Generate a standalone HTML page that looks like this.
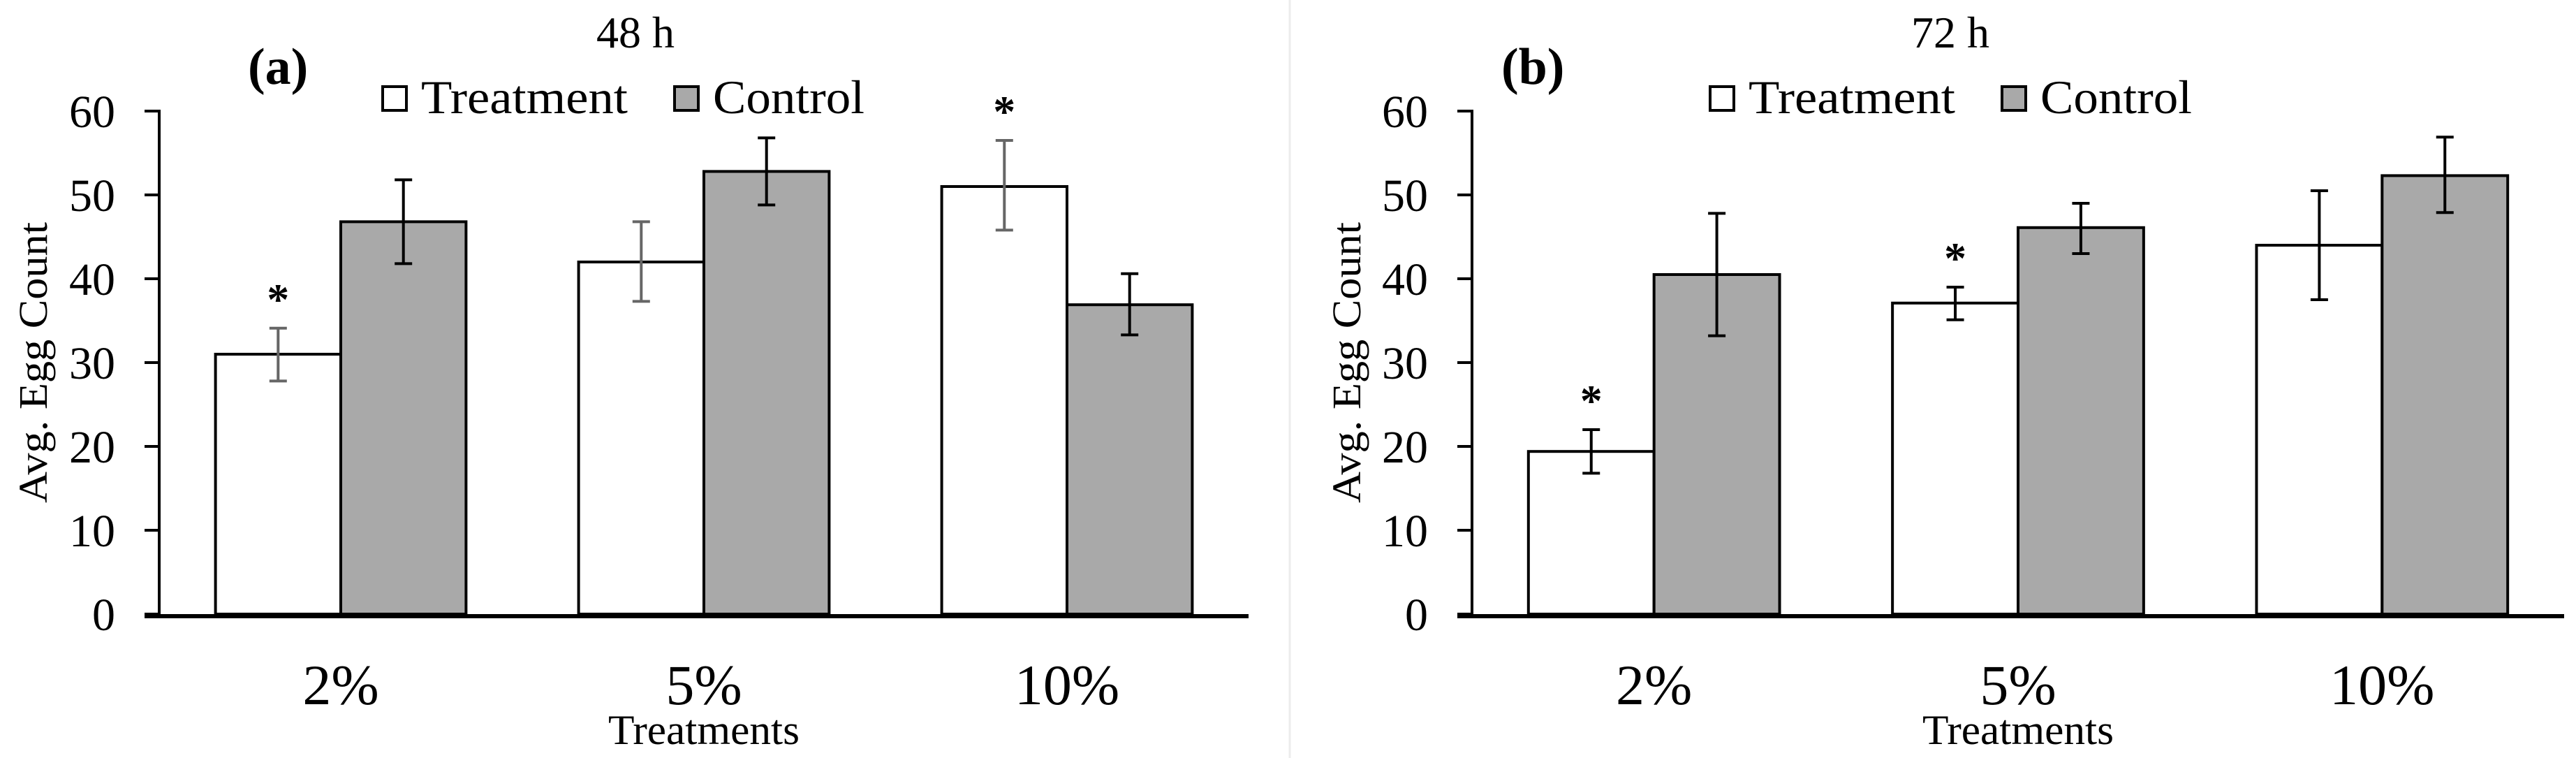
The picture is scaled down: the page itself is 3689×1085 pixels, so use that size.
<!DOCTYPE html>
<html><head><meta charset="utf-8"><style>
html,body{margin:0;padding:0;background:#fff;}
svg{display:block;}
text{font-family:"Liberation Serif",serif;fill:#000;}
</style></head><body>
<svg id="fig" width="3689" height="1085" viewBox="0 0 3689 1085" xmlns="http://www.w3.org/2000/svg">
<rect x="0" y="0" width="3689" height="1085" fill="#fff"/>
<line x1="1847" y1="0" x2="1847" y2="1085" stroke="#ececec" stroke-width="3"/>
</svg>
<script>
const categories = ["2%", "5%", "10%"];
const yTicks = [0, 10, 20, 30, 40, 50, 60];
const a_treatment = [31, 42, 51];
const a_treatmentLo = [27.8, 37.3, 45.8];
const a_treatmentHi = [34.1, 46.8, 56.5];
const a_control = [46.8, 52.8, 36.9];
const a_controlLo = [41.8, 48.8, 33.3];
const a_controlHi = [51.8, 56.8, 40.6];
const a_sigTreatment = [true, false, true];
const b_treatment = [19.4, 37.1, 44];
const b_treatmentLo = [16.8, 35.1, 37.5];
const b_treatmentHi = [22, 39, 50.5];
const b_control = [40.5, 46.1, 52.3];
const b_controlLo = [33.2, 43, 47.9];
const b_controlHi = [47.8, 49, 56.9];
const b_sigTreatment = [true, true, false];

const NS = "http://www.w3.org/2000/svg";
const svg = document.getElementById("fig");
function mk(tag, attrs, parent) {
  const e = document.createElementNS(NS, tag);
  for (const k in attrs) e.setAttribute(k, attrs[k]);
  (parent || svg).appendChild(e);
  return e;
}
function txt(str, attrs, parent) { const t = mk("text", attrs, parent); t.textContent = str; return t; }

function panel(p) {
  const g = mk("g", {});
  
  
  const y0 = 879, pxPerUnit = 12;
  const yScale = v => y0 - v * pxPerUnit;
  const catW = (p.xEnd - p.ax) / categories.length;
  const barW = catW * 0.345;
  const xCenter = i => p.ax + catW * (i + 0.5);

  // title
  const t1 = txt(p.title, {x: p.titleX, y: 68, "font-size": 64, "text-anchor": "middle"}, g);
  
  
  const t2 = txt(p.tag, {x: p.tagX, y: 120, "font-size": 74, "font-weight": "bold"}, g);
  
  

  // legend
  const lg = mk("g", {}, g);
  
  
  const l1 = mk("rect", {x: p.legX, y: 124, width: 34, height: 34, fill: "#fff", stroke: "#000", "stroke-width": 4}, lg);
  
  
  const l2 = txt("Treatment", {x: p.legX + 55, y: 162, "font-size": 68, textLength: 296, lengthAdjust: "spacingAndGlyphs"}, lg);
  
  
  const l3 = mk("rect", {x: p.legX + 418, y: 124, width: 34, height: 34, fill: "#a9a9a9", stroke: "#000", "stroke-width": 4}, lg);
  
  
  const l4 = txt("Control", {x: p.legX + 473, y: 162, "font-size": 68, textLength: 217, lengthAdjust: "spacingAndGlyphs"}, lg);
  
  

  // y ticks
  yTicks.forEach(v => {
    const tk = mk("line", {x1: p.ax - 21, x2: p.ax, y1: yScale(v), y2: yScale(v), stroke: "#000", "stroke-width": 4}, g);
    
    
    const tl = txt(String(v), {x: p.ax - 63, y: yScale(v) + 23, "font-size": 66, "text-anchor": "end"}, g);
    
    
  });

  // y title
  const yt = txt("Avg. Egg Count", {x: 0, y: 0, "font-size": 58, "text-anchor": "middle", textLength: 402, lengthAdjust: "spacingAndGlyphs", transform: `translate(${p.yTitleX},519) rotate(-90)`}, g);
  
  

  // bars
  categories.forEach((c, i) => {
    const xc = xCenter(i);
    const tb = mk("rect", {x: xc - barW, y: yScale(p.treat[i]), width: barW, height: y0 - yScale(p.treat[i]), fill: "#fff", stroke: "#000", "stroke-width": 4}, g);
    
    
    const cb = mk("rect", {x: xc, y: yScale(p.ctrl[i]), width: barW, height: y0 - yScale(p.ctrl[i]), fill: "#a9a9a9", stroke: "#000", "stroke-width": 4}, g);
    
    

    const errs = [[xc - barW / 2, p.tLo[i], p.tHi[i], p.tErrColor, 'error-bar-treatment'], [xc + barW / 2, p.cLo[i], p.cHi[i], "#000", 'error-bar-control']];
    errs.forEach(([ex, lo, hi, col, nm]) => {
      const eg = mk("g", {stroke: col, "stroke-width": 4}, g);
      
      
      mk("line", {x1: ex, x2: ex, y1: yScale(lo), y2: yScale(hi)}, eg);
      mk("line", {x1: ex - 12.5, x2: ex + 12.5, y1: yScale(lo), y2: yScale(lo)}, eg);
      mk("line", {x1: ex - 12.5, x2: ex + 12.5, y1: yScale(hi), y2: yScale(hi)}, eg);
    });
    if (p.sig[i]) {
      const s = txt("*", {x: xc - barW / 2, y: yScale(p.tHi[i]) - 20, "font-size": 64, "font-weight": "bold", "text-anchor": "middle"}, g);
      
      
    }
    const xl = txt(c, {x: xc, y: 1008, "font-size": 82, "text-anchor": "middle"}, g);
    
    
  });

  // axes
  const ya = mk("line", {x1: p.ax, x2: p.ax, y1: yScale(60) - 2, y2: y0 + 3, stroke: "#000", "stroke-width": 4}, g);
  
  
  const xa = mk("line", {x1: p.ax - 21, x2: p.xEnd, y1: y0 + 3, y2: y0 + 3, stroke: "#000", "stroke-width": 6}, g);
  
  

  const xt = txt("Treatments", {x: xCenter(1), y: 1065, "font-size": 60, "text-anchor": "middle", textLength: 274, lengthAdjust: "spacingAndGlyphs"}, g);
  
  
}

panel({name: "panel-48h", title: "48 h", titleX: 910, tag: "(a)", tagX: 355, legX: 548, ax: 228, xEnd: 1788, yTitleX: 67,
  treat: a_treatment, tLo: a_treatmentLo, tHi: a_treatmentHi, ctrl: a_control, cLo: a_controlLo, cHi: a_controlHi,
  sig: a_sigTreatment, tErrColor: "#666"});
panel({name: "panel-72h", title: "72 h", titleX: 2793, tag: "(b)", tagX: 2150, legX: 2449, ax: 2108, xEnd: 3672, yTitleX: 1948,
  treat: b_treatment, tLo: b_treatmentLo, tHi: b_treatmentHi, ctrl: b_control, cLo: b_controlLo, cHi: b_controlHi,
  sig: b_sigTreatment, tErrColor: "#000"});
</script>
</body></html>
